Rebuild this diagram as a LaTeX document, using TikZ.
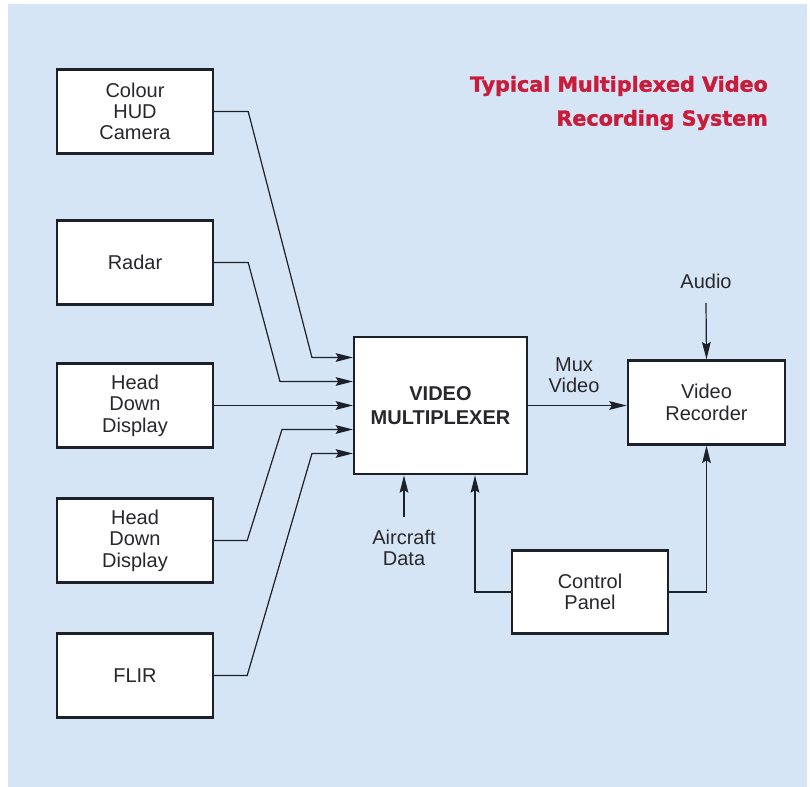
\documentclass[tikz,border=0pt]{standalone}
\usepackage{fontspec}
\setmainfont{Liberation Sans}
\newfontfamily\titlefont[FakeBold=1.5]{DejaVu Sans Bold}
\usetikzlibrary{positioning, arrows.meta, calc}
\definecolor{bgblue}{RGB}{214,229,245}
\definecolor{inkdark}{RGB}{28,32,40}
\definecolor{textgrey}{RGB}{40,40,44}
\definecolor{titlered}{RGB}{200,28,58}
\newcommand{\linecolor}{inkdark}
\tikzset{
	blk/.style={draw=\linecolor, line width=1.8pt, fill=white, inner sep=0pt,
		minimum width=117pt, minimum height=63pt, align=center,
		font=\fontsize{15}{16}\selectfont, text=textgrey},
	feed/.style={draw=\linecolor, line width=0.9pt,
		-{Stealth[length=13pt, width=6.5pt, inset=2pt]}},
	lbl/.style={align=center, font=\fontsize{15}{16}\selectfont, text=textgrey, inner sep=0pt},
	ttl/.style={anchor=east, inner sep=0pt, text=titlered, font=\fontsize{15.5}{18}\titlefont},
}

\begin{document}
\begin{tikzpicture}[x=0.75pt, y=-0.75pt]
	\useasboundingbox (0,0) rectangle (810,787);
	\fill[bgblue] (8,4) rectangle (807,787);

	% sources
	\node[blk] at (135,111.5) (cam) {Colour\\HUD\\Camera};
	\node[blk] at (135,262.5) (radar) {Radar};
	\node[blk] at (135,405.5) (hddA) {Head\\Down\\Display};
	\node[blk] at (135,540.5) (hddB) {Head\\Down\\Display};
	\node[blk] at (135,675.5) (flir) {FLIR};

	% multiplexer and recorder
	\node[blk, minimum width=129.5pt, minimum height=103pt,
		font=\fontsize{15}{17.5}\selectfont\bfseries] at (440.5,405.5) (mux) {VIDEO\\MULTIPLEXER};
	\node[blk, minimum width=118pt] at (706.5,402.5) (rec) {Video\\Recorder};
	\node[blk, minimum height=62pt] at (590,592) (ctrl) {Control\\Panel};

	\node[lbl] at (706,281) (audio) {Audio};
	\node[lbl] at (574,375) (muxvid) {Mux\\Video};
	\node[lbl] at (404,548) (acdata) {Aircraft\\Data};
	\coordinate (audioend) at (706,303);
	\coordinate (acend) at (404,517);

	% title
	\node[ttl] at (768,86) (title1) {Typical Multiplexed Video};
	\node[ttl] at (768,120) (title2) {Recording System};

	% feeds into the multiplexer
	\draw[feed] (cam.east) -- ++(34,0) -- ($(mux.west)+(-41,-48)$) -- ($(mux.west)+(0,-48)$);
	\draw[feed] (radar.east) -- ++(34,0) -- ($(mux.west)+(-73,-24)$) -- ($(mux.west)+(0,-24)$);
	\draw[feed] (hddA.east) -- (mux.west);
	\draw[feed] (hddB.east) -- ++(33,0) -- ($(mux.west)+(-71,24)$) -- ($(mux.west)+(0,24)$);
	\draw[feed] (flir.east) -- ++(33,0) -- ($(mux.west)+(-41,48)$) -- ($(mux.west)+(0,48)$);

	\draw[feed] (mux.east) -- (rec.west |- mux.east);
	\draw[feed] (audioend) -- (rec.north);
	\draw[feed] (acend) -- (acend |- mux.south);
	\draw[feed] (ctrl.west) -| ($(mux.south)+(34.5,0)$);
	\draw[feed] (ctrl.east) -| (rec.south);
\end{tikzpicture}
\end{document}
